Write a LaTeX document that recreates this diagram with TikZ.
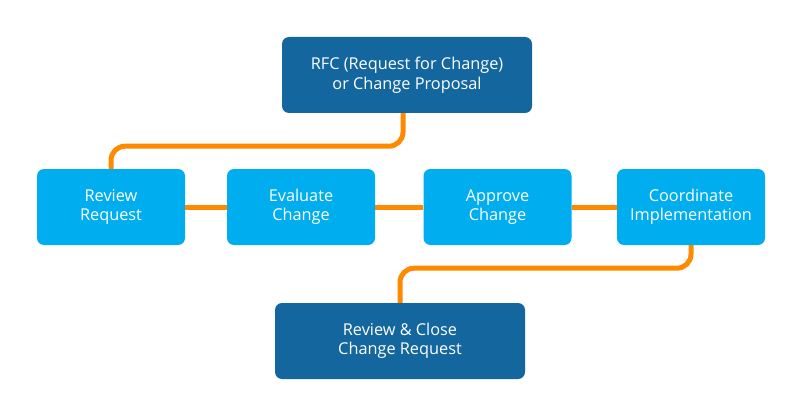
\documentclass[tikz,border=0pt]{standalone}
\usepackage{fontspec}
\setmainfont{Open Sans}
\usetikzlibrary{backgrounds}
\definecolor{darkb}{HTML}{14679E}
\definecolor{lightb}{HTML}{00AEEF}
\definecolor{orng}{HTML}{FF8A00}
\tikzset{
  box/.style={rounded corners=7pt, text=white, align=center, inner sep=0pt,
    font=\fontsize{16.3}{19.5}\selectfont},
  darkbox/.style={box, fill=darkb, minimum width=250pt, minimum height=76pt},
  lightbox/.style={box, fill=lightb, minimum width=148pt, minimum height=76pt},
  conn/.style={draw=orng, line width=5pt, rounded corners=14pt}
}
\begin{document}
\begin{tikzpicture}[x=1pt,y=-1pt]
\useasboundingbox (0,0) rectangle (800,417);
\node[darkbox] (rfc) at (407,75) {RFC (Request for Change)\\or Change Proposal};
\node[lightbox] (review) at (111,207) {Review\\Request};
\node[lightbox] (eval) at (301,207) {Evaluate\\Change};
\node[lightbox] (appr) at (497.5,207) {Approve\\Change};
\node[lightbox] (coord) at (691,207) {Coordinate\\Implementation};
\node[darkbox] (close) at (400,341) {Review \& Close\\Change Request};
\begin{scope}[on background layer]
\draw[conn] ([xshift=-4pt]rfc.south) -- ++(0,33) -| (review.north);
\draw[conn] (review.east) -- (eval.west);
\draw[conn] (eval.east) -- (appr.west);
\draw[conn] (appr.east) -- (coord.west);
\draw[conn] (coord.south) -- ++(0,23) -| (close.north);
\end{scope}
\end{tikzpicture}
\end{document}
